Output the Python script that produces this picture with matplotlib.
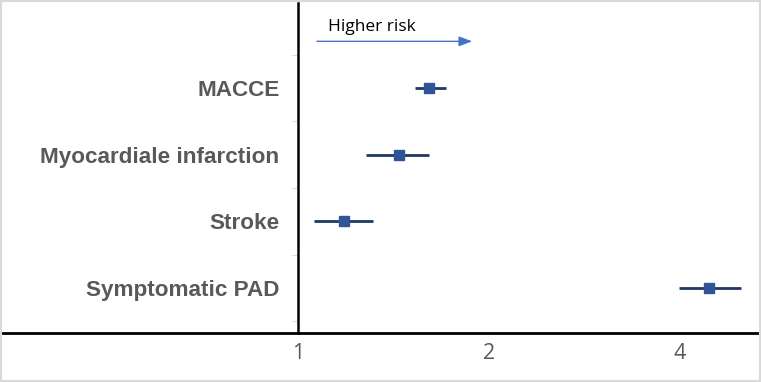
import matplotlib
matplotlib.use("Agg")
import matplotlib.pyplot as plt
from matplotlib.patches import Rectangle

categories = ["MACCE", "Myocardiale infarction", "Stroke", "Symptomatic PAD"]
estimates = [1.61, 1.44, 1.18, 4.44]
ci_low = [1.53, 1.28, 1.06, 3.99]
ci_high = [1.71, 1.61, 1.31, 4.99]
xtick_vals = [1, 2, 4]
xtick_labels = ["1", "2", "4"]

fig = plt.figure(figsize=(7.61, 3.82), dpi=100)
fig.patch.set_facecolor("white")
ax = fig.add_axes([2/761, 1 - 333/382, 758/761, 330/382])

n = len(categories)
ypos = [n - i for i in range(n)]  # MACCE top

for y, e, lo, hi in zip(ypos, estimates, ci_low, ci_high):
    ax.plot([lo, hi], [y, y], color="#203864", lw=2.0, solid_capstyle="butt", zorder=2)
    ax.plot([e], [y], marker="s", ms=7.5, color="#2F5597", mec="#2F5597", zorder=3)

ax.set_xscale("log", base=2)
ax.set_xlim(0.341, 5.35)
ax.set_ylim(0.325, 5.275)

ax.spines["top"].set_visible(False)
ax.spines["right"].set_visible(False)
ax.spines["left"].set_position(("data", 1))
ax.spines["left"].set_linewidth(1.8)
ax.spines["bottom"].set_linewidth(2.0)
ax.set_facecolor("white")

ax.set_xticks(xtick_vals)
ax.set_xticks([], minor=True)
ax.set_yticks(ypos)
ax.set_yticks([0.5, 1.5, 2.5, 3.5, 4.5], minor=True)
ax.tick_params(axis="x", which="both", length=0, pad=7)
ax.tick_params(axis="y", which="major", length=0, pad=13.5)
ax.tick_params(axis="y", which="minor", length=4, width=0.8, color="#D9D9D9", direction="out")

ax.set_xticklabels(xtick_labels, family="Open Sans", fontsize=15.5, color="#595959")
ax.set_yticklabels(categories, family="Liberation Sans", fontweight="bold",
                   fontsize=16.2, color="#595959")

ax.annotate("", xy=(1.90, 4.70), xytext=(1.06, 4.70),
            arrowprops=dict(arrowstyle="-|>,head_length=0.8,head_width=0.3", color="#4472C4", lw=1.0))
ax.text(1.115, 4.80, "Higher risk", fontsize=12.5, family="Open Sans", color="black", ha="left", va="bottom")

fig.add_artist(Rectangle((0, 0), 1, 1, transform=fig.transFigure, fill=False,
                         edgecolor="#D9D9D9", lw=3))

fig.savefig("out.png", dpi=100, facecolor="white")
